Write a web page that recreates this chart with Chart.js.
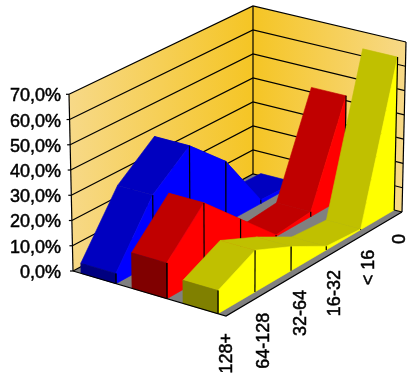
<!DOCTYPE html>
<html>
<head>
<meta charset="utf-8">
<style>
  html, body { margin: 0; padding: 0; background: #fff; }
  canvas { display: block; }
</style>
<script src="https://cdn.jsdelivr.net/npm/chart.js@4"></script>
</head>
<body>
<canvas id="chart" width="416" height="383"></canvas>
<script>
// chart values
const categories = ['128+', '64-128', '32-64', '16-32', '< 16', '0'];
const blueValues = [4, 27, 39, 25, 1.5, 1];
const redValues = [14, 29.5, 15, 0.6, 2, 42];
const yellowValues = [9, 16.4, 9.6, 1.5, 0.3, 63];
const valueTicks = [0, 10, 20, 30, 40, 50, 60, 70];

// corners of the 3D box on screen: [floor x, floor y, top x, top y]
const frontLeft = [73, 271, 69, 94.3];
const frontRight = [226, 316, 226, 136];
const backLeft = [253, 174, 253, 6];
const backRight = [402, 212, 406, 42];

const valueMax = 70;
const axisLeft = 62;
const pxPerValue = (271 - 94.3) / valueMax;
const depthBend = 0.06; // near categories are spaced a bit wider
const labelFont = '"Liberation Sans", Arial, sans-serif';
const labelStroke = 0.5;
const tickLabelDrop = 2; // digits sit a little above the middle baseline
// small label shifts along the slanted axis
const labelNudges = [[1, 17], [1, 18.5], [2, 17], [1, 18], [1, 18], [-2, 22]];

const lerp = (a, b, f) => a + (b - a) * f;

// depth: 0 first category .. 1 last category, across: 0 left wall .. 1 front corner
function project(depth, across, value) {
  const h = value / valueMax;
  const d = depth + depthBend * depth * (1 - depth);
  const corner = c => [lerp(c[0], c[2], h), lerp(c[1], c[3], h)];
  const a = corner(frontLeft), b = corner(frontRight), c = corner(backLeft), e = corner(backRight);
  const sx = lerp(lerp(a[0], b[0], across), lerp(c[0], e[0], across), d);
  const sy = lerp(lerp(a[1], b[1], across), lerp(c[1], e[1], across), d);
  // y goes through the value axis, so it is given in value units
  return { x: sx, y: (271 - sy) / pxPerValue };
}

const canvas = document.getElementById('chart');
const ctx = canvas.getContext('2d');

const wallLight = 'rgb(247,217,136)';
const wallDark = 'rgb(245,197,36)';
const leftWallFill = ctx.createLinearGradient(69, 0, 253, 0);
leftWallFill.addColorStop(0, wallLight);
leftWallFill.addColorStop(1, wallDark);
const rightWallFill = ctx.createLinearGradient(253, 0, 406, 0);
rightWallFill.addColorStop(0, wallDark);
rightWallFill.addColorStop(1, wallLight);

// paint order list, first entry ends up at the back
const layers = [];

function polygon(points, color, seam) {
  layers.push({
    data: points.concat([points[0]]),
    showLine: true,
    fill: 'shape',
    backgroundColor: color,
    borderColor: seam || color,
    borderWidth: seam ? 0.6 : 0,
    pointRadius: 0,
    tension: 0,
    clip: false
  });
}

function line(points) {
  layers.push({
    data: points,
    showLine: true,
    fill: false,
    borderColor: '#000',
    borderWidth: 1.2,
    pointRadius: 0,
    tension: 0,
    clip: false
  });
}

// floor and walls
polygon([project(0, 0, 0), project(0, 1, 0), project(1, 1, 0), project(1, 0, 0)], '#808080');
polygon([project(0, 0, 0), project(0, 0, valueMax), project(1, 0, valueMax), project(1, 0, 0)], leftWallFill);
polygon([project(1, 0, 0), project(1, 0, valueMax), project(1, 1, valueMax), project(1, 1, 0)], rightWallFill);

valueTicks.forEach(v => {
  line([project(0, 0, v), project(1, 0, v), project(1, 1, v)]);
  // tick mark sticking out of the value axis
  const p = project(0, 0, v);
  line([{ x: p.x - 3, y: p.y }, p]);
});
line([project(0, 0, 0), project(0, 0, valueMax)]);
line([project(1, 0, 0), project(1, 0, valueMax)]);
line([project(1, 1, 0), project(1, 1, valueMax)]);

// one 3D area ribbon per series, from back to front
function addRibbon(values, seriesIndex, topColor, sideColor, frontColor) {
  const gap = 0.157;
  const s0 = (seriesIndex + gap) / 3;
  const s1 = (seriesIndex + 1 - gap) / 3;
  const last = values.length - 1;
  for (let i = last - 1; i >= 0; i--) {
    const d0 = i / last, d1 = (i + 1) / last;
    polygon([project(d0, s0, values[i]), project(d0, s1, values[i]), project(d1, s1, values[i + 1]), project(d1, s0, values[i + 1])], topColor, topColor);
    polygon([project(d0, s1, values[i]), project(d1, s1, values[i + 1]), project(d1, s1, 0), project(d0, s1, 0)], sideColor, sideColor);
    line([project(d1, s1, values[i + 1]), project(d1, s1, 0)]);
  }
  polygon([project(0, s0, values[0]), project(0, s1, values[0]), project(0, s1, 0), project(0, s0, 0)], frontColor, frontColor);
  line([project(0, s1, values[0]), project(0, s1, 0)]);
}

addRibbon(blueValues, 0, '#0000C0', '#0000FF', '#000080');
addRibbon(redValues, 1, '#C00000', '#FF0000', '#800000');
addRibbon(yellowValues, 2, '#C0C000', '#FFFF00', '#808000');

// floor edges on top of everything
line([project(0, 0, 0), project(0, 1, 0), project(1, 1, 0)]);

// the slanted category axis has no library scale, so its labels are placed here
const categoryLabels = {
  id: 'categoryLabels',
  afterDraw(chart) {
    const c = chart.ctx;
    const { x, y } = chart.scales;
    c.save();
    c.fillStyle = '#000';
    c.strokeStyle = '#000';
    c.lineWidth = labelStroke;
    c.font = '18px ' + labelFont;
    c.textAlign = 'right';
    c.textBaseline = 'middle';
    categories.forEach((label, i) => {
      const p = project(i / (categories.length - 1), 1, 0);
      c.save();
      c.translate(x.getPixelForValue(p.x) + labelNudges[i][0], y.getPixelForValue(p.y) + labelNudges[i][1]);
      c.rotate(-Math.PI / 2);
      c.fillText(label, 0, 0);
      c.strokeText(label, 0, 0);
      c.restore();
    });
    c.restore();
  }
};

new Chart(ctx, {
  type: 'scatter',
  // Chart.js paints the first dataset last
  data: { datasets: layers.reverse() },
  plugins: [categoryLabels],
  options: {
    responsive: false,
    animation: false,
    layout: { padding: 0 },
    plugins: { legend: { display: false }, tooltip: { enabled: false } },
    scales: {
      x: { type: 'linear', display: false, min: axisLeft, max: 416 },
      y: {
        type: 'linear',
        min: (271 - 383) / pxPerValue,
        max: 271 / pxPerValue,
        grid: { display: false, drawTicks: false },
        border: { display: false },
        // grid is hidden, so the tick positions only place the label text
        afterBuildTicks(axis) { axis.ticks = valueTicks.map(v => ({ value: v - tickLabelDrop / pxPerValue })); },
        afterFit(axis) { axis.width = axisLeft; axis.paddingTop = 0; axis.paddingBottom = 0; },
        ticks: {
          autoSkip: false,
          padding: 1,
          color: '#000',
          textStrokeColor: '#000',
          textStrokeWidth: labelStroke,
          font: { family: labelFont, size: 18 },
          callback: (v, i) => valueTicks[i].toFixed(1).replace('.', ',') + '%'
        }
      }
    }
  }
});
</script>
</body>
</html>
